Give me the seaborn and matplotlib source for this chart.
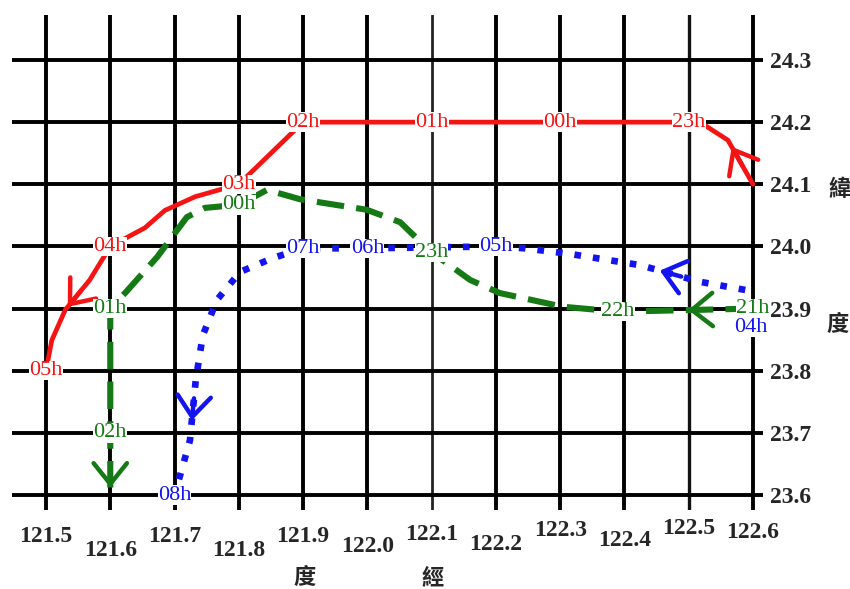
import numpy as np
import pandas as pd
import matplotlib.pyplot as plt
import seaborn as sns

# grid ticks (degrees)
lon_ticks = [121.5, 121.6, 121.7, 121.8, 121.9, 122.0, 122.1, 122.2, 122.3, 122.4, 122.5, 122.6]
lat_ticks = [23.6, 23.7, 23.8, 23.9, 24.0, 24.1, 24.2, 24.3]

# red (solid) track, in time order
red_lon = [122.600, 122.561, 122.525, 122.5, 122.3, 122.1, 121.9, 121.8, 121.732, 121.685,
           121.654, 121.6, 121.568, 121.530, 121.509, 121.5]
red_lat = [24.100, 24.171, 24.195, 24.2, 24.2, 24.2, 24.2, 24.1, 24.080, 24.058,
           24.030, 24.0, 23.946, 23.898, 23.849, 23.8]
red_hour = ['', '', '', '23h', '00h', '01h', '02h', '03h', '', '', '', '04h', '', '', '', '05h']

# green (dashed) track
green_lon = [122.6, 122.39, 122.304, 122.206, 122.160, 122.121, 122.1, 122.051, 121.999, 121.895,
             121.844, 121.8, 121.747, 121.719, 121.673, 121.623, 121.6, 121.6, 121.6]
green_lat = [23.9, 23.895, 23.903, 23.925, 23.946, 23.975, 23.99, 24.039, 24.059, 24.076,
             24.091, 24.067, 24.062, 24.047, 23.983, 23.925, 23.9, 23.7, 23.612]
green_hour = ['21h', '22h', '', '', '', '', '23h', '', '', '', '', '00h', '', '', '', '', '01h', '02h', '']

# blue (dotted) track
blue_lon = [122.588, 122.518, 122.424, 122.315, 122.245, 122.2, 122.0, 121.9, 121.852, 121.802,
            121.766, 121.744, 121.733, 121.724, 121.7]
blue_lat = [23.930, 23.943, 23.970, 23.988, 23.997, 24.0, 23.997, 23.997, 23.981, 23.959,
            23.914, 23.857, 23.785, 23.688, 23.6]
blue_hour = ['04h', '', '', '', '', '05h', '06h', '07h', '', '', '', '', '', '', '08h']

# direction arrows: (segment index, position along segment)
red_arrows = [(0, 0.85), (12, 0.9)]
green_arrows = [(0, 0.48), (17, 1.0)]
blue_arrows = [(1, 0.67), (12, 0.67)]

tracks = {
    'red': (red_lon, red_lat, red_hour, red_arrows),
    'green': (green_lon, green_lat, green_hour, green_arrows),
    'blue': (blue_lon, blue_lat, blue_hour, blue_arrows),
}
colors = {'red': '#f41414', 'green': '#157a15', 'blue': '#1414f0'}
styles = {'red': dict(linestyle='-', lw=3.4),
          'green': dict(linestyle=(0, (4.5, 2)), lw=4.4),
          'blue': dict(linestyle=(0, (1, 1.8)), lw=4.8)}
label_shift = {('blue', '04h'): (4, -27)}

sns.set_style('white')
plt.rcParams['font.family'] = ['Liberation Serif', 'DejaVu Serif']

fig = plt.figure(figsize=(8.5, 5.89), dpi=100)
ax = fig.add_axes([12 / 850, 1 - 510 / 589, 751 / 850, 495 / 589])
ax.set_xlim(121.4471, 122.6156)
ax.set_ylim(23.5759, 24.3724)
ax.set_xticks(lon_ticks)
ax.set_yticks(lat_ticks)
ax.grid(True, color='black', lw=2.8)
ax.set_axisbelow(True)
# two of the meridians are printed thinner in the original
xgrid = ax.xaxis.get_gridlines()
xgrid[6].set(lw=2.0, color='#222222')
xgrid[10].set(lw=2.4, color='#111111')
for s in ax.spines.values():
    s.set_visible(False)
ax.tick_params(length=0)
ax.tick_params(axis='y', labelleft=False, labelright=True, pad=5)
ax.set_yticklabels([f'{v:.1f}' for v in lat_ticks], fontsize=17, weight='bold')
ax.set_xticklabels([])

for name, (lon, lat, hours, arrows) in tracks.items():
    df = pd.DataFrame({'lon': lon, 'lat': lat})
    sns.lineplot(data=df, x='lon', y='lat', sort=False, estimator=None, ax=ax,
                 color=colors[name], zorder=3, **styles[name])
    for x, y, h in zip(lon, lat, hours):
        if h:
            dx, dy = label_shift.get((name, h), (0, 0))
            ax.annotate(h, (x, y), xytext=(dx, dy), textcoords='offset points',
                        ha='center', va='center', fontsize=16, color=colors[name], zorder=5,
                        bbox=dict(facecolor='white', edgecolor='none', pad=0.2))
    for i, f in arrows:
        a = np.array([lon[i], lat[i]])
        b = np.array([lon[i + 1], lat[i + 1]])
        tip = a + f * (b - a)
        pa, pb = ax.transData.transform([a, b])
        d = (pb - pa) / np.hypot(*(pb - pa))
        ax.annotate('', xy=tip, xytext=(-d[0] * 16, -d[1] * 16), textcoords='offset points',
                    arrowprops=dict(arrowstyle='->,head_length=0.75,head_width=0.6',
                                    color=colors[name], lw=3.2, shrinkA=0, shrinkB=0,
                                    mutation_scale=20),
                    zorder=4)

# staggered longitude labels (pixel drop below the grid)
x_drop = [27, 40, 27, 41, 26, 36, 25, 35, 20, 31, 19, 23]
for t, off in zip(lon_ticks, x_drop):
    ax.annotate(f'{t:.1f}', (t, 0), xycoords=('data', 'axes fraction'),
                xytext=(0, -off * 0.72), textcoords='offset points',
                ha='center', va='center', fontsize=17, weight='bold')

ax.set_xlabel('')
ax.set_ylabel('')

cjk = ['Noto Sans CJK TC', 'DejaVu Sans']
fig.text(840 / 850, 1 - 190 / 589, '緯', family=cjk, fontsize=16, weight='bold', ha='center', va='center')
fig.text(838 / 850, 1 - 325 / 589, '度', family=cjk, fontsize=16, weight='bold', ha='center', va='center')
fig.text(305 / 850, 1 - 578 / 589, '度', family=cjk, fontsize=16, weight='bold', ha='center', va='center')
fig.text(433 / 850, 1 - 578 / 589, '經', family=cjk, fontsize=16, weight='bold', ha='center', va='center')

fig.savefig('out.png', dpi=100, facecolor='white')
